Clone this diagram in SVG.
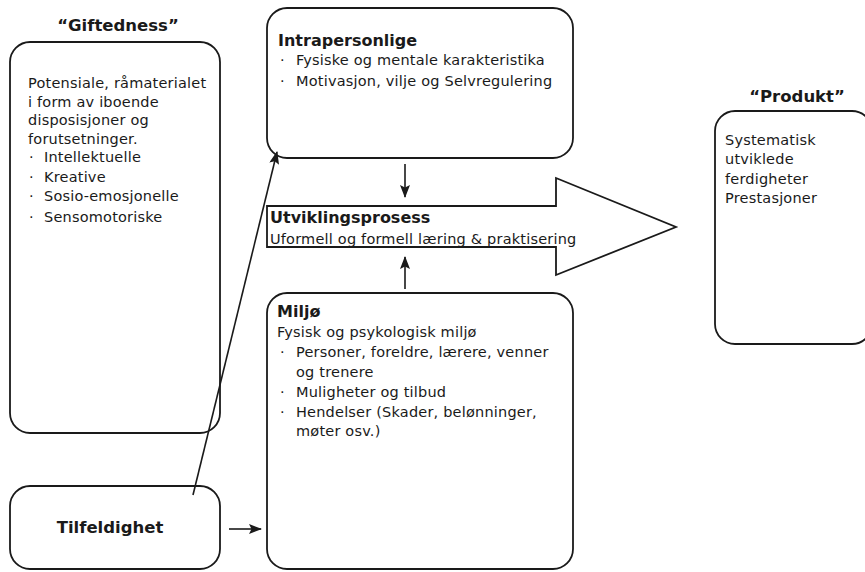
<svg xmlns="http://www.w3.org/2000/svg" width="865" height="572" viewBox="0 0 865 572">
<defs>
<style>
.box{fill:#fff;stroke:#1a1a1a;stroke-width:1.8}
.t{font-family:"DejaVu Sans",sans-serif;font-size:14.5px;letter-spacing:0.2px;fill:#1a1a1a}
.b{font-family:"DejaVu Sans",sans-serif;font-weight:bold;font-size:16px;fill:#1a1a1a}
.ttl{font-family:"DejaVu Sans",sans-serif;font-weight:bold;font-size:16.5px;fill:#1a1a1a;text-anchor:middle}
.conn{stroke:#1a1a1a;stroke-width:1.6;fill:none;marker-end:url(#ah)}
</style>
<marker id="ah" viewBox="0 0 13 10" refX="12" refY="5" markerWidth="13" markerHeight="10" markerUnits="userSpaceOnUse" orient="auto">
<path d="M0,0 L13,5 L0,10 L2.5,5 z" fill="#1a1a1a"/>
</marker>
</defs>
<rect width="865" height="572" fill="#fff"/>

<g id="giftedness">
<text class="ttl" x="118" y="31">“Giftedness”</text>
<rect class="box" x="10" y="42" width="210" height="391" rx="20"/>
<text class="t" x="28" y="88">Potensiale, råmaterialet</text>
<text class="t" x="28" y="107">i form av iboende</text>
<text class="t" x="28" y="125">disposisjoner og</text>
<text class="t" x="28" y="144">forutsetninger.</text>
<text class="t" x="29" y="162">·</text><text class="t" x="44" y="162">Intellektuelle</text>
<text class="t" x="29" y="182">·</text><text class="t" x="44" y="182">Kreative</text>
<text class="t" x="29" y="201">·</text><text class="t" x="44" y="201">Sosio-emosjonelle</text>
<text class="t" x="29" y="222">·</text><text class="t" x="44" y="222">Sensomotoriske</text>
</g>

<g id="intrapersonlige">
<rect class="box" x="267" y="8" width="306" height="150" rx="20"/>
<text class="b" x="278" y="46">Intrapersonlige</text>
<text class="t" x="280" y="65">·</text><text class="t" x="296" y="65">Fysiske og mentale karakteristika</text>
<text class="t" x="280" y="86">·</text><text class="t" x="296" y="86">Motivasjon, vilje og Selvregulering</text>
</g>

<g id="utviklingsprosess">
<polygon class="box" points="267,206 556,206 556,178 676,227 556,275 556,247 267,247"/>
<text class="b" x="270" y="223">Utviklingsprosess</text>
<text class="t" x="270" y="244">Uformell og formell læring &amp; praktisering</text>
</g>

<g id="miljo">
<rect class="box" x="267" y="293" width="306" height="276" rx="20"/>
<text class="b" x="277" y="317">Miljø</text>
<text class="t" x="277" y="337">Fysisk og psykologisk miljø</text>
<text class="t" x="280" y="357">·</text><text class="t" x="296" y="357">Personer, foreldre, lærere, venner</text>
<text class="t" x="296" y="377">og trenere</text>
<text class="t" x="280" y="397">·</text><text class="t" x="296" y="397">Muligheter og tilbud</text>
<text class="t" x="280" y="417">·</text><text class="t" x="296" y="417">Hendelser (Skader, belønninger,</text>
<text class="t" x="296" y="436">møter osv.)</text>
</g>

<g id="tilfeldighet">
<rect class="box" x="10" y="486" width="210" height="83" rx="20"/>
<text class="ttl" x="110" y="533">Tilfeldighet</text>
</g>

<g id="produkt">
<text class="ttl" x="797" y="102">“Produkt”</text>
<rect class="box" x="715" y="111" width="157" height="233" rx="20"/>
<text class="t" x="725" y="145">Systematisk</text>
<text class="t" x="725" y="164">utviklede</text>
<text class="t" x="725" y="184">ferdigheter</text>
<text class="t" x="725" y="203">Prestasjoner</text>
</g>

<g id="connectors">
<line class="conn" x1="193" y1="495" x2="277" y2="152"/>
<line class="conn" x1="405" y1="164" x2="405" y2="197"/>
<line class="conn" x1="405" y1="289" x2="405" y2="257"/>
<line class="conn" x1="229" y1="529" x2="261" y2="529"/>
</g>
</svg>
